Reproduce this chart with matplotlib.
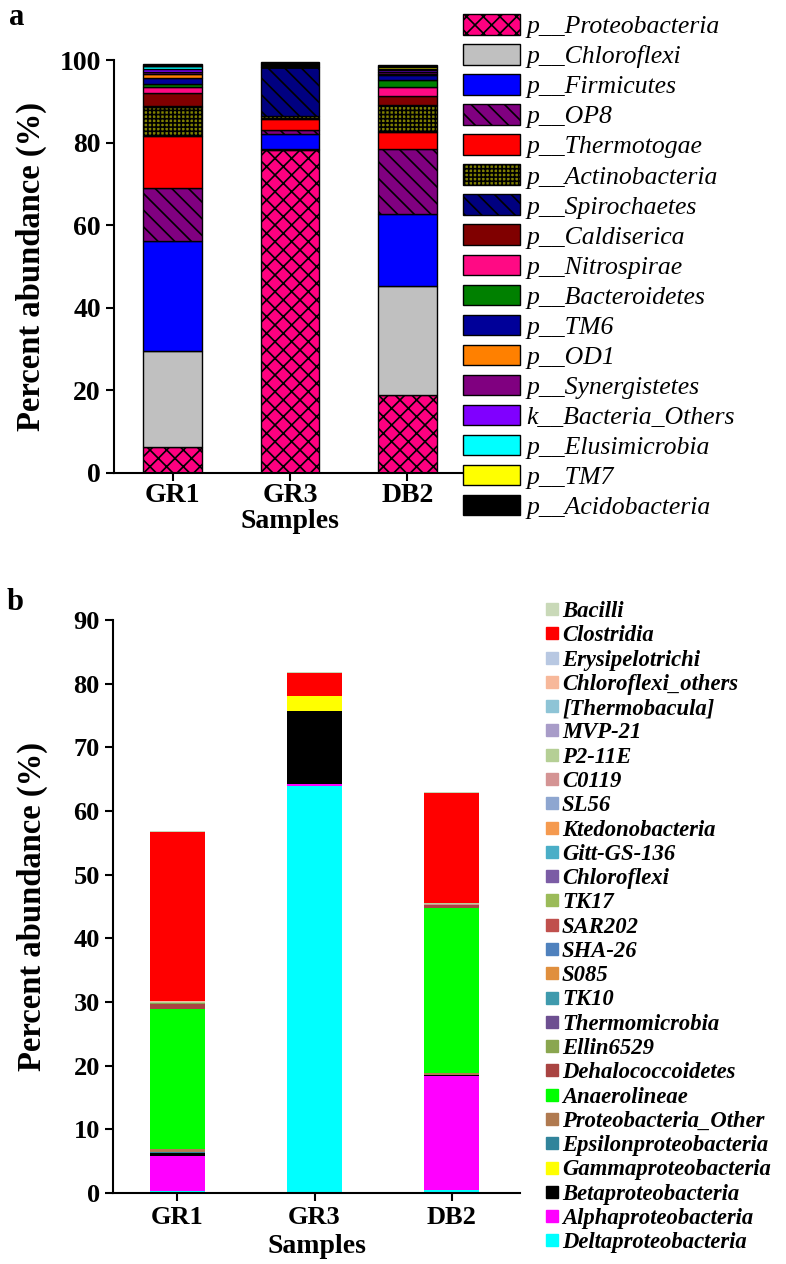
import matplotlib
matplotlib.use("Agg")
import matplotlib.pyplot as plt
from matplotlib.patches import Patch
from matplotlib.lines import Line2D
import numpy as np

plt.rcParams['font.family'] = ['Liberation Serif', 'DejaVu Serif']
plt.rcParams['hatch.linewidth'] = 1.2

# ---- panel a: phylum level ----
samples = ['GR1', 'GR3', 'DB2']
phyla = ['p__Proteobacteria', 'p__Chloroflexi', 'p__Firmicutes', 'p__OP8',
         'p__Thermotogae', 'p__Actinobacteria', 'p__Spirochaetes', 'p__Caldiserica',
         'p__Nitrospirae', 'p__Bacteroidetes', 'p__TM6', 'p__OD1',
         'p__Synergistetes', 'k__Bacteria_Others', 'p__Elusimicrobia', 'p__TM7',
         'p__Acidobacteria']
gr1_a = [6.4, 23.1, 26.6, 12.9, 12.6, 7.0, 0.2, 3.2, 1.4, 0.8, 1.5, 0.8, 0.6, 0.8, 0.6, 0.1, 0.4]
gr3_a = [78.3, 0.2, 3.6, 1.0, 2.7, 0.7, 11.8, 0.0, 0.0, 0.0, 0.0, 0.0, 0.0, 0.0, 0.0, 0.0, 1.3]
db2_a = [19.0, 26.2, 17.4, 15.8, 4.2, 6.5, 0.0, 2.3, 2.0, 1.7, 1.2, 0.4, 0.5, 0.5, 0.1, 0.5, 0.5]
phyla_colors = ['#ff0080', '#c0c0c0', '#0000ff', '#800080', '#ff0000', '#808000',
                '#000080', '#800000', '#ff0a84', '#008000', '#000099', '#ff8000',
                '#800080', '#8000ff', '#00ffff', '#ffff00', '#000000']
phyla_hatch = ['xx', '', '', '\\\\', '', '++++', '\\\\', '', '', '', '', '', '', '', '', '', '']

# ---- panel b: class level ----
classes = ['Bacilli', 'Clostridia', 'Erysipelotrichi', 'Chloroflexi_others', '[Thermobacula]',
           'MVP-21', 'P2-11E', 'C0119', 'SL56', 'Ktedonobacteria', 'Gitt-GS-136',
           'Chloroflexi', 'TK17', 'SAR202', 'SHA-26', 'S085', 'TK10', 'Thermomicrobia',
           'Ellin6529', 'Dehalococcoidetes', 'Anaerolineae', 'Proteobacteria_Other',
           'Epsilonproteobacteria', 'Gammaproteobacteria', 'Betaproteobacteria',
           'Alphaproteobacteria', 'Deltaproteobacteria']
class_colors = ['#c9d9b8', '#ff0000', '#b8c8e2', '#f7b89a', '#8ec4d6', '#a89cc8', '#b5cf95',
                '#d49494', '#8ea6d0', '#f59a4f', '#4aaec7', '#7b5ca5', '#9bbb59', '#c0504d',
                '#4f81bd', '#e08f3e', '#3f9aad', '#6d4f91', '#8aa64f', '#a94442', '#00ff00',
                '#b07a50', '#31849b', '#ffff00', '#000000', '#ff00ff', '#00ffff']
# values listed top-of-legend first (Bacilli ... Deltaproteobacteria)
gr1_b = [0.1, 26.6, 0.0, 0.1, 0.0, 0.0, 0.1, 0.1, 0.0, 0.0, 0.0, 0.0, 0.0, 0.0, 0.0, 0.0,
         0.0, 0.0, 0.1, 0.8, 22.0, 0.5, 0.1, 0.1, 0.4, 5.5, 0.3]
gr3_b = [0.2, 3.5, 0.0, 0.0, 0.0, 0.0, 0.1, 0.0, 0.0, 0.0, 0.0, 0.0, 0.0, 0.0, 0.0, 0.0,
         0.0, 0.0, 0.0, 0.0, 0.0, 0.0, 0.0, 2.3, 11.4, 0.3, 64.0]
db2_b = [0.1, 17.3, 0.0, 0.1, 0.0, 0.0, 0.1, 0.1, 0.0, 0.0, 0.0, 0.0, 0.0, 0.0, 0.0, 0.0,
         0.0, 0.0, 0.1, 0.4, 25.9, 0.3, 0.0, 0.1, 0.2, 17.9, 0.4]

fig = plt.figure(figsize=(7.86, 12.64), dpi=100)

# ---------- panel a ----------
ax1 = fig.add_axes([0.145, 0.6258, 0.448, 0.3267])
x = np.arange(len(samples))
data_a = np.array([gr1_a, gr3_a, db2_a]).T
bottom = np.zeros(len(samples))
for name, vals, col, h in zip(phyla, data_a, phyla_colors, phyla_hatch):
    ax1.bar(x, vals, 0.5, bottom=bottom, color=col, edgecolor='black',
            linewidth=1.0, hatch=h)
    bottom += vals
ax1.set_xlim(-0.5, 2.5)
ax1.set_ylim(0, 100)
ax1.set_yticks([0, 20, 40, 60, 80, 100])
ax1.set_xticks(x)
ax1.set_xticklabels(samples)
for s in ['top', 'right']:
    ax1.spines[s].set_visible(False)
for s in ['left', 'bottom']:
    ax1.spines[s].set_linewidth(1.5)
ax1.tick_params(width=1.5, length=6, labelsize=20)
ax1.tick_params(axis='x', pad=1.5)
for lab in ax1.get_xticklabels() + ax1.get_yticklabels():
    lab.set_fontweight('bold')
ax1.set_ylabel('Percent abundance (%)', fontsize=23.5, fontweight='bold')
ax1.set_xlabel('Samples', fontsize=20, fontweight='bold')
ax1.yaxis.set_label_coords(-0.19, 0.5)
ax1.xaxis.set_label_coords(0.5, -0.088)

handles_a = [Patch(facecolor=c, edgecolor='black', hatch=h, linewidth=1.0)
             for c, h in zip(phyla_colors, phyla_hatch)]
fig.legend(handles_a, phyla, loc='upper left', bbox_to_anchor=(0.573, 0.999),
           frameon=False, borderpad=0, handlelength=2.2, handleheight=0.85,
           handletextpad=0.25, labelspacing=0.23,
           prop={'family': 'Liberation Serif', 'style': 'italic', 'size': 18.5})

fig.text(0.012, 0.986, 'a', fontsize=22, fontweight='bold', va='center')

# ---------- panel b ----------
ax2 = fig.add_axes([0.1438, 0.0562, 0.518, 0.4533])
data_b = np.array([gr1_b, gr3_b, db2_b]).T
bottom = np.zeros(len(samples))
# stack from Deltaproteobacteria (bottom) up to Bacilli (top)
for name, vals, col in list(zip(classes, data_b, class_colors))[::-1]:
    ax2.bar(x, vals, 0.4, bottom=bottom, color=col, edgecolor='none')
    bottom += vals
ax2.set_xlim(-0.47, 2.5)
ax2.set_ylim(0, 90)
ax2.set_yticks(range(0, 91, 10))
ax2.set_xticks(x)
ax2.set_xticklabels(samples)
for s in ['top', 'right']:
    ax2.spines[s].set_visible(False)
for s in ['left', 'bottom']:
    ax2.spines[s].set_linewidth(1.5)
ax2.tick_params(width=1.5, length=6, labelsize=19)
for lab in ax2.get_xticklabels() + ax2.get_yticklabels():
    lab.set_fontweight('bold')
ax2.set_ylabel('Percent abundance (%)', fontsize=23.5, fontweight='bold')
ax2.set_xlabel('Samples', fontsize=20, fontweight='bold')
ax2.yaxis.set_label_coords(-0.16, 0.5)
ax2.xaxis.set_label_coords(0.5, -0.072)

handles_b = [Line2D([], [], marker='s', linestyle='none', markersize=8.5,
                    markerfacecolor=c, markeredgecolor=c) for c in class_colors]
fig.legend(handles_b, classes, loc='upper left', bbox_to_anchor=(0.679, 0.5335),
           frameon=False, borderpad=0, handlelength=0.6, handletextpad=0.15,
           labelspacing=0.145,
           prop={'family': 'Liberation Serif', 'style': 'italic', 'weight': 'bold', 'size': 16.3})

fig.text(0.008, 0.523, 'b', fontsize=22, fontweight='bold', va='center')

fig.savefig('out.png', dpi=100)
